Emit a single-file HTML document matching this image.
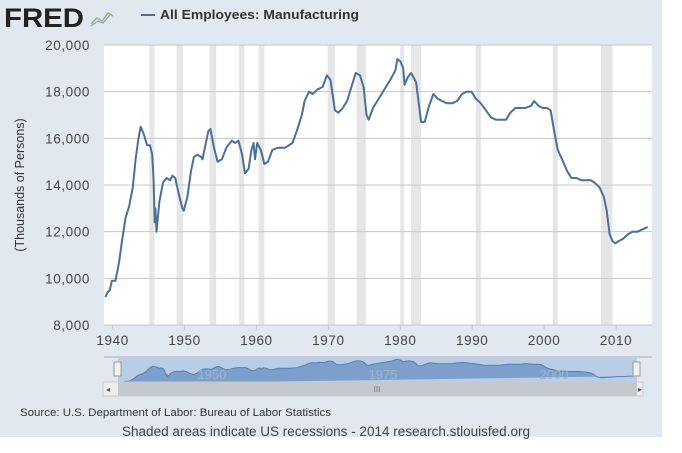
<!DOCTYPE html>
<html><head><meta charset="utf-8"><style>
html,body{margin:0;padding:0;background:#fff;}
#wrap{position:relative;width:682px;height:453px;overflow:hidden;font-family:"Liberation Sans",sans-serif;}
#bg{position:absolute;left:0;top:0;width:662px;height:437px;background:#e1e8ef;}
</style></head><body>
<div id="wrap">
<div id="bg"></div>
<svg id="svg" width="682" height="453" style="position:absolute;left:0;top:0">
  <g>
    <text x="4" y="27" font-size="27" font-weight="bold" fill="#222" font-family="Liberation Sans, sans-serif" letter-spacing="0" textLength="80" lengthAdjust="spacingAndGlyphs">FRED</text>
    <polyline points="91,24 97,18 102,21 108,13 113,16" fill="none" stroke="#9ab87a" stroke-width="1.5"/>
    <polyline points="91,26 98,21 103,23 110,15" fill="none" stroke="#7a9fc8" stroke-width="1"/>
  </g>
  <g>
    <line x1="141" y1="15" x2="155" y2="15" stroke="#4a6f9b" stroke-width="2"/>
    <text x="160" y="19" font-size="13" font-weight="bold" fill="#333" textLength="199" lengthAdjust="spacingAndGlyphs">All Employees: Manufacturing</text>
  </g>
  <rect x="104" y="45" width="548" height="280" fill="#fff"/>
  <g id="rec"></g>
  <g id="grid"></g>
  <g id="yt"></g>
  <g id="xt"></g>
  <path id="line" fill="none" stroke="#4a6f9b" stroke-width="2" stroke-linejoin="round"/>
  <text transform="translate(24,185) rotate(-90)" text-anchor="middle" font-size="12.5" fill="#333">(Thousands of Persons)</text>
  <g>
    <rect x="118" y="358" width="519" height="26" fill="#b9cde6"/>
    <path id="nav" fill="#7d9fcc" stroke="#5a7fae" stroke-width="1"/>
    <text x="212" y="379" font-size="13" fill="#9db4cf" text-anchor="middle">1950</text>
    <text x="383" y="379" font-size="13" fill="#9db4cf" text-anchor="middle">1975</text>
    <text x="554" y="379" font-size="13" fill="#9db4cf" text-anchor="middle">2000</text>
    <rect x="114" y="362" width="7" height="14" fill="#f2f2f2" stroke="#999"/>
    <rect x="633" y="362" width="7" height="14" fill="#f2f2f2" stroke="#999"/>
    <line x1="104" y1="357" x2="652" y2="357" stroke="#aab"/>
  </g>
  <g>
    <rect x="103" y="382" width="540" height="14" fill="#eee" stroke="#ccc"/>
    <rect x="118" y="382" width="519" height="14" fill="#c5c9ce"/>
    <text x="108" y="392" font-size="8" fill="#555" text-anchor="middle">◂</text>
    <text x="640" y="392" font-size="8" fill="#555" text-anchor="middle">▸</text>
    <text x="377" y="392" font-size="8" fill="#777" text-anchor="middle">III</text>
  </g>
  <text x="20" y="416" font-size="11" fill="#333" textLength="311" lengthAdjust="spacingAndGlyphs">Source: U.S. Department of Labor: Bureau of Labor Statistics</text>
  <text x="122" y="436" font-size="13.5" fill="#444" textLength="408" lengthAdjust="spacingAndGlyphs">Shaded areas indicate US recessions - 2014 research.stlouisfed.org</text>
</svg>
</div>
<script>
const years=[1939,1939.3,1939.6,1939.9,1940.4,1940.9,1941.3,1941.8,1942.3,1942.8,1943.2,1943.6,1943.9,1944.3,1944.8,1945.2,1945.5,1945.7,1945.85,1945.95,1946.1,1946.5,1947,1947.5,1948,1948.3,1948.7,1949.2,1949.7,1949.9,1950.4,1950.9,1951.3,1951.8,1952.3,1952.5,1952.9,1953.3,1953.6,1954.1,1954.6,1955.2,1955.8,1956.3,1956.6,1957,1957.5,1958,1958.4,1958.9,1959.3,1959.6,1959.8,1960.1,1960.6,1961.1,1961.6,1962.2,1963,1964,1965,1965.6,1966.3,1966.7,1967.3,1967.8,1968.5,1969.2,1969.8,1970.3,1970.9,1971.4,1972,1972.6,1973.2,1973.8,1974.4,1974.9,1975.3,1975.6,1976.2,1976.8,1977.4,1978,1978.6,1979.3,1979.6,1980,1980.4,1980.6,1981,1981.5,1982.2,1982.9,1983.4,1984,1984.6,1985.2,1985.8,1986.5,1987.2,1987.9,1988.6,1989.2,1989.9,1990.5,1991.2,1991.9,1992.6,1993.3,1994,1994.7,1995.3,1996,1996.7,1997.4,1998.2,1998.6,1999.2,1999.8,2000.4,2000.9,2001.4,2001.9,2002.5,2003.2,2003.8,2004.5,2005.2,2005.8,2006.5,2007,2007.7,2008.3,2008.7,2009.1,2009.5,2009.9,2010.4,2011,2011.7,2012.3,2013,2013.7,2014.4,2014.9];
const values=[9200,9400,9500,9900,9900,10700,11600,12600,13100,13900,15100,16000,16500,16200,15700,15700,15300,14200,12400,13000,12000,13300,14100,14300,14200,14400,14300,13600,13000,12900,13500,14600,15200,15300,15200,15100,15700,16300,16400,15600,15000,15100,15600,15800,15900,15800,15900,15300,14500,14700,15500,15800,15100,15800,15500,14900,15000,15500,15600,15600,15800,16300,17000,17600,18000,17900,18100,18200,18700,18500,17200,17100,17300,17600,18200,18800,18700,18200,17000,16800,17300,17600,17900,18200,18500,18900,19400,19300,19000,18300,18600,18800,18400,16700,16700,17400,17900,17700,17600,17500,17500,17600,17900,18000,18000,17700,17500,17200,16900,16800,16800,16800,17100,17300,17300,17300,17400,17600,17400,17300,17300,17200,16300,15500,15100,14600,14300,14300,14200,14200,14200,14100,13900,13500,12900,11900,11600,11500,11600,11700,11900,12000,12000,12100,12200];
const recStart=[1945.1,1948.9,1953.5,1957.6,1960.3,1969.9,1973.9,1980.0,1981.5,1990.5,2001.2,2007.9];
const recEnd=[1945.8,1949.8,1954.4,1958.3,1961.1,1970.9,1975.2,1980.5,1982.9,1991.2,2001.9,2009.5];
const yTicks=[8000,10000,12000,14000,16000,18000,20000];
const yTickLabels=["8,000","10,000","12,000","14,000","16,000","18,000","20,000"];
const xTicks=[1940,1950,1960,1970,1980,1990,2000,2010];
const xTickLabels=["1940","1950","1960","1970","1980","1990","2000","2010"];

const NS='http://www.w3.org/2000/svg';
const X0=104,X1=652,Y0=325,Y1=45,T0=1938.8,T1=2015.0,V0=8000,V1=20000;
function xs(t){return X0+(t-T0)/(T1-T0)*(X1-X0);}
function ys(v){return Y0-(v-V0)/(V1-V0)*(Y0-Y1);}
function mk(tag,attrs,parent){const e=document.createElementNS(NS,tag);for(const k in attrs)e.setAttribute(k,attrs[k]);parent.appendChild(e);return e;}
const rec=document.getElementById('rec');
for(let i=0;i<recStart.length;i++){
  const r=mk('rect',{x:xs(recStart[i]),y:Y1,width:xs(recEnd[i])-xs(recStart[i]),height:Y0-Y1,fill:'#e6e6e6'},rec);
  
  
}
const grid=document.getElementById('grid'),yt=document.getElementById('yt'),xt=document.getElementById('xt');
yTicks.forEach((v,i)=>{
  const l=mk('line',{x1:X0,x2:X1,y1:ys(v),y2:ys(v),stroke:i===0?'#c0c8d0':'#c8c8c8','stroke-width':1},grid);
  
  
  const t=mk('text',{x:90,y:ys(v)+5,'text-anchor':'end','font-size':13.5,'letter-spacing':0.6,fill:'#444'},yt);
  t.textContent=yTickLabels[i];
  
  
});
xTicks.forEach((v,i)=>{
  const l=mk('line',{x1:xs(v),x2:xs(v),y1:Y0,y2:Y0+5,stroke:'#c0c8d0'},xt);
  
  
  const t=mk('text',{x:xs(v),y:345,'text-anchor':'middle','font-size':13.5,'letter-spacing':0.6,fill:'#444'},xt);
  t.textContent=xTickLabels[i];
  
  
});
let d='';years.forEach((t,i)=>{d+=(i?'L':'M')+xs(t).toFixed(1)+','+ys(values[i]).toFixed(1);});
document.getElementById('line').setAttribute('d',d);
const NX0=118,NX1=637,NY0=384,NY1=358;
function nx(t){return NX0+(t-T0)/(T1-T0)*(NX1-NX0);}
function ny(v){return NY0-(v-V0*1.1)/(V1-V0*1.1)*(NY0-NY1);}
let nd='M'+NX0+','+NY0;years.forEach((t,i)=>{nd+='L'+nx(t).toFixed(1)+','+ny(values[i]).toFixed(1);});
nd+='L'+NX1+','+NY0+'Z';
document.getElementById('nav').setAttribute('d',nd);
</script>
</body></html>
